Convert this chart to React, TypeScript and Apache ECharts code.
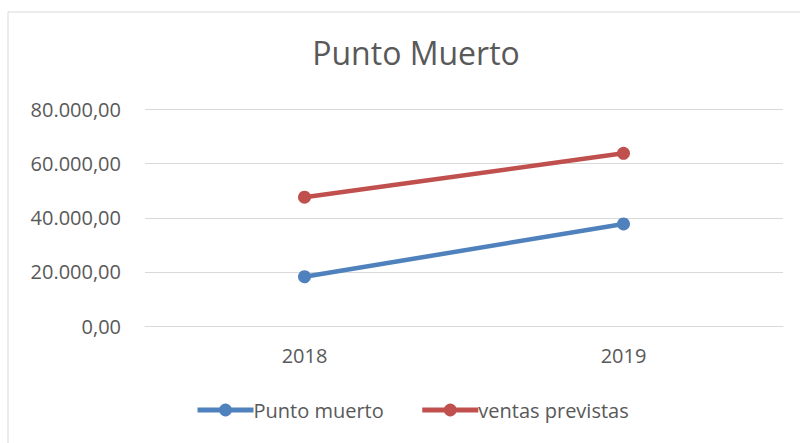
import React, { useEffect, useRef } from "react";
import * as echarts from "echarts";

const categories = ["2018", "2019"];
const puntoMuerto = [18200, 37700];
const ventasPrevistas = [47600, 63800];
const seriesNames = ["Punto muerto", "ventas previstas"];

const fmt = (v: number) => {
  const [i, d] = v.toFixed(2).split(".");
  return i.replace(/\B(?=(\d{3})+(?!\d))/g, ".") + "," + d;
};

export default function App() {
  const ref = useRef<HTMLDivElement>(null);
  useEffect(() => {
    const chart = echarts.init(ref.current!, null, { renderer: "svg" });
    const font = "Open Sans";
    chart.setOption({
      animation: false,
      backgroundColor: "#ffffff",
      textStyle: { fontFamily: font },
      graphic: [
        {
          type: "rect",
          shape: { x: 8, y: 12, width: 800, height: 440 },
          style: { fill: "none", stroke: "#d9d9d9", lineWidth: 1 },
          silent: true,
        },
      ],
      title: {
        text: "Punto Muerto",
        left: 411,
        textAlign: "center",
        top: 31,
        textStyle: { fontFamily: font, fontSize: 32, fontWeight: "normal", color: "#595959" },
      },
      grid: { left: 145, right: 17, top: 109.5, bottom: 117, containLabel: false },
      xAxis: {
        type: "category",
        data: categories,
        boundaryGap: true,
        axisLine: { show: true, lineStyle: { color: "#d9d9d9", width: 1 } },
        axisTick: { show: false },
        axisLabel: { color: "#595959", fontSize: 20, margin: 19, fontFamily: font },
      },
      yAxis: {
        type: "value",
        min: 0,
        max: 80000,
        interval: 20000,
        axisLine: { show: false },
        axisTick: { show: false },
        splitLine: { lineStyle: { color: "#d9d9d9", width: 1 } },
        axisLabel: { color: "#595959", fontSize: 20, margin: 24, fontFamily: font, formatter: fmt },
      },
      legend: {
        bottom: 18,
        left: 190,
        itemWidth: 56,
        itemHeight: 16,
        itemGap: 36,
        lineStyle: { width: 5 },
        textStyle: { color: "#595959", fontSize: 20, fontFamily: font, padding: [0, 0, 0, -5] },
        data: seriesNames,
      },
      series: [
        {
          name: seriesNames[0],
          type: "line",
          data: puntoMuerto,
          symbol: "circle",
          symbolSize: 13,
          lineStyle: { color: "#4f81bd", width: 4.5 },
          itemStyle: { color: "#4f81bd" },
        },
        {
          name: seriesNames[1],
          type: "line",
          data: ventasPrevistas,
          symbol: "circle",
          symbolSize: 13,
          lineStyle: { color: "#c0504d", width: 4.5 },
          itemStyle: { color: "#c0504d" },
        },
      ],
    });
    return () => chart.dispose();
  }, []);
  return (
    <div
      ref={ref}
      style={{ position: "absolute", left: 0, top: 0, width: 800, height: 443 }}
    />
  );
}
